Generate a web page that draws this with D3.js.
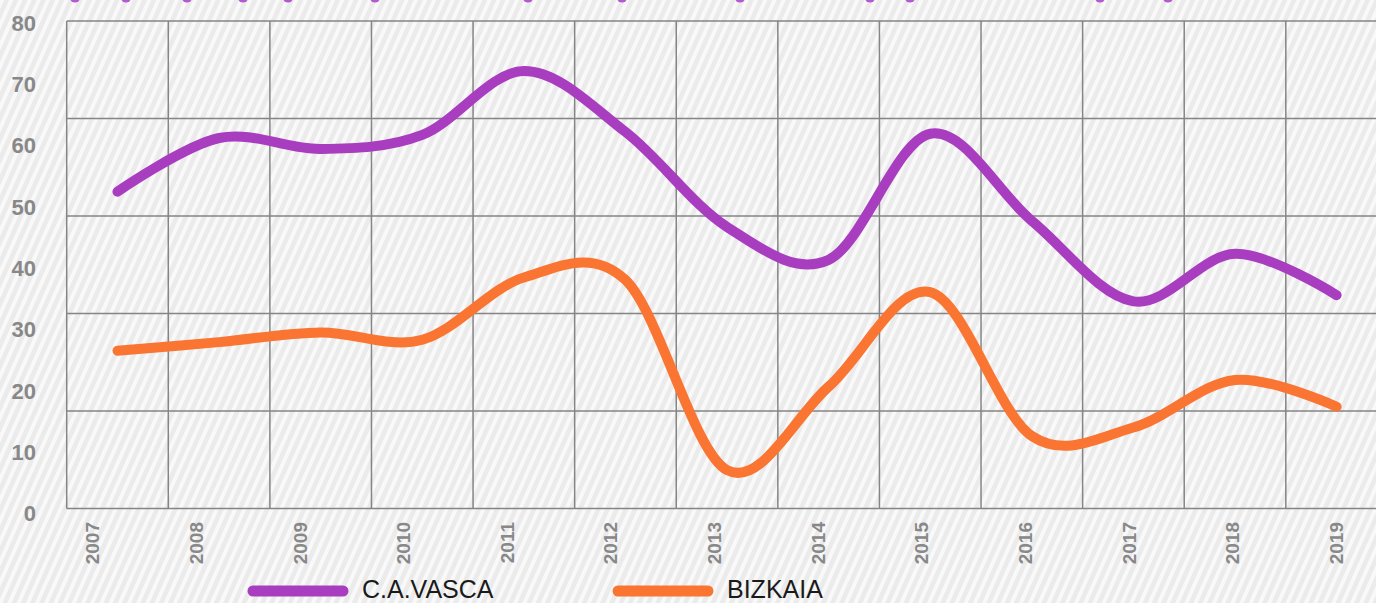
<!DOCTYPE html>
<html>
<head>
<meta charset="utf-8">
<script src="https://cdn.jsdelivr.net/npm/d3@7"></script>
<style>
  html, body { margin: 0; padding: 0; background: #ededed; overflow: hidden; }
  svg { display: block; font-family: "Liberation Sans", Arial, sans-serif; }
</style>
</head>
<body>
<svg id="chart" width="1376" height="603"></svg>
<script>
// data
const years = ["2007","2008","2009","2010","2011","2012","2013","2014","2015","2016","2017","2018","2019"];
const vasca = [52, 60.8, 59, 61.3, 71.8, 61.8, 46.2, 40.8, 61.5, 47.2, 34, 41.8, 35];
const bizkaia = [25.9, 27.3, 28.9, 27.7, 37.9, 37.5, 6.3, 20, 35.5, 11.9, 13.3, 21.1, 16.7];
const seriesNames = ["C.A.VASCA", "BIZKAIA"];
const seriesColors = ["#a93dc0", "#fa7532"];
const yTicks = [0, 10, 20, 30, 40, 50, 60, 70, 80];
const gridSteps = [0, 16, 32, 48, 64, 80];
const topMarks = [75, 126, 187, 243, 288, 375, 528, 622, 740, 870, 910, 1100, 1168];

init();
function init(){
  const svg = d3.select("#chart");
  const width = +svg.attr("width");
  const height = +svg.attr("height");

  // striped background
  const defs = svg.append("defs");
  const pat = defs.append("pattern")
    .attr("id", "stripes")
    .attr("patternUnits", "userSpaceOnUse")
    .attr("width", 8.4).attr("height", 8.4)
    .attr("patternTransform", "rotate(24)");
  pat.append("rect").attr("width", 8.4).attr("height", 8.4).attr("fill", "#ebebeb");
  pat.append("rect").attr("width", 3.8).attr("height", 8.4).attr("fill", "#f9f9f9");
  svg.append("rect").attr("width", width).attr("height", height).attr("fill", "url(#stripes)");

  // scales
  const xBand = d3.scaleBand().domain(years).range([66.7, 1387.4]);
  const x = d => xBand(d) + xBand.bandwidth() / 2;
  const xLabel = d3.scalePoint().domain(years).range([92.5, 1336]);
  const y = d3.scaleLinear().domain([0, 80]).range([508.5, 21]);
  const yLabel = d3.scaleLinear().domain([0, 80]).range([513.5, 22.8]);

  // grid
  const grid = svg.append("g").attr("stroke", "#858585").attr("stroke-width", 1.5);
  grid.selectAll("line.h").data(gridSteps).enter().append("line")
    .attr("x1", xBand.range()[0]).attr("x2", xBand.range()[1])
    .attr("y1", d => y(d)).attr("y2", d => y(d));
  grid.selectAll("line.v").data(years.concat(["end"])).enter().append("line")
    .attr("x1", d => d === "end" ? xBand.range()[1] : xBand(d))
    .attr("x2", d => d === "end" ? xBand.range()[1] : xBand(d))
    .attr("y1", y(80)).attr("y2", y(0));

  // y labels
  svg.append("g").selectAll("text").data(yTicks).enter().append("text")
    .attr("x", 36).attr("y", d => yLabel(d))
    .attr("dy", "0.36em")
    .attr("text-anchor", "end")
    .attr("fill", "#888")
    .style("font-size", "22px").style("font-weight", "bold")
    .text(d => d);

  // year labels
  svg.append("g").selectAll("text").data(years).enter().append("text")
    .attr("transform", d => "translate(" + xLabel(d) + ",522) rotate(-90)")
    .attr("dy", "0.36em")
    .attr("text-anchor", "end")
    .attr("fill", "#888")
    .style("font-size", "19px").style("font-weight", "bold")
    .text(d => d);

  // lines
  const line = d3.line()
    .x((d, i) => x(years[i]))
    .y(d => y(d))
    .curve(d3.curveCatmullRom.alpha(0));
  [vasca, bizkaia].forEach((vals, k) => {
    svg.append("path")
      .attr("d", line(vals))
      .attr("fill", "none")
      .attr("stroke", seriesColors[k])
      .attr("stroke-width", 10)
      .attr("stroke-linecap", "round")
      .attr("stroke-linejoin", "round");
  });

  // cut-off marks at top edge
  svg.append("g").selectAll("ellipse").data(topMarks).enter().append("ellipse")
    .attr("cx", d => d).attr("cy", -2).attr("rx", 5).attr("ry", 4.5)
    .attr("fill", "#b45ad0");

  // legend
  const legX = [248, 613];
  const lg = svg.append("g");
  seriesNames.forEach((name, k) => {
    lg.append("line")
      .attr("x1", legX[k] + 5).attr("x2", legX[k] + 95)
      .attr("y1", 591).attr("y2", 591)
      .attr("stroke", seriesColors[k])
      .attr("stroke-width", 11)
      .attr("stroke-linecap", "round");
    lg.append("text")
      .attr("x", legX[k] + 114).attr("y", 598)
      .attr("fill", "#1a1a1a")
      .style("font-size", "25px")
      .text(name);
  });
}
</script>
</body>
</html>
